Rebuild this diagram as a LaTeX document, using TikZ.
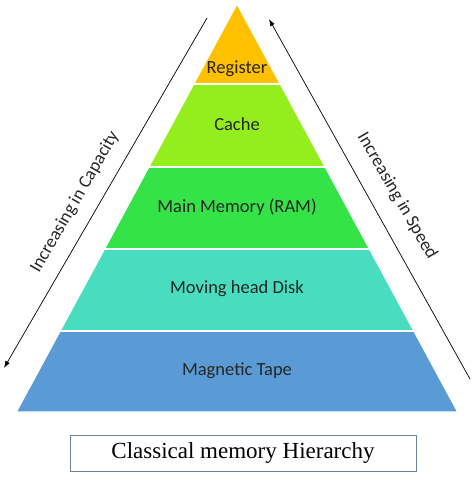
\documentclass[tikz,border=0pt]{standalone}
\usepackage{fontspec}
\setmainfont{Carlito}
\newfontfamily\captionfont{Liberation Serif}
\usetikzlibrary{arrows.meta}
\definecolor{regcol}{HTML}{FFC000}
\definecolor{cachecol}{HTML}{94EE1E}
\definecolor{ramcol}{HTML}{35E247}
\definecolor{diskcol}{HTML}{48DDBE}
\definecolor{tapecol}{HTML}{5B9BD5}
\definecolor{boxcol}{HTML}{6E8399}
\begin{document}
\begin{tikzpicture}[
            x=1pt, y=-1pt,
            >={Latex[length=7pt,width=5pt]},
            band/.style={draw=white, line width=1.2pt},
            level label/.style={font=\fontsize{18.5}{21}\selectfont, text=black!85},
            side label/.style={font=\fontsize{18.2}{21}\selectfont, text=black!85},
            caption box/.style={draw=boxcol, line width=0.8pt, minimum width=346pt, minimum height=36pt, font=\captionfont\fontsize{23}{26}\selectfont},
            every node/.style={align=center}
    ]
        \useasboundingbox (0,0) rectangle (474,477);

        % Pyramid
        \fill[band, fill=regcol] (237,4) -- (280.3,84) -- (193.7,84) -- cycle;
        \fill[band, fill=cachecol] (193.7,84) -- (280.3,84) -- (325.2,167) -- (148.8,167) -- cycle;
        \fill[band, fill=ramcol] (148.8,167) -- (325.2,167) -- (369.5,249) -- (104.5,249) -- cycle;
        \fill[band, fill=diskcol] (104.5,249) -- (369.5,249) -- (413.9,331) -- (60.1,331) -- cycle;
        \fill[band, fill=tapecol] (60.1,331) -- (413.9,331) -- (457.7,412) -- (16.3,412) -- cycle;
        \draw[white, line width=1.2pt] (193.7,84) -- (280.3,84);
        \draw[white, line width=1.2pt] (148.8,167) -- (325.2,167);
        \draw[white, line width=1.2pt] (104.5,249) -- (369.5,249);
        \draw[white, line width=1.2pt] (60.1,331) -- (413.9,331);

        % Levels
        \node[level label] (reg) at (237,69) {Register};
        \node[level label] (cache) at (237,124) {Cache};
        \node[level label] (ram) at (237,207) {Main Memory (RAM)};
        \node[level label] (disk) at (237,289) {Moving head Disk};
        \node[level label] (tape) at (237,371) {Magnetic Tape};

        % Side arrows
        \coordinate (cap_top) at (207,18);
        \coordinate (cap_bot) at (4,368);
        \coordinate (speed_bot) at (470,379);
        \coordinate (speed_top) at (269,19);
        \node[side label, rotate=60] (capacity) at (75,202) {Increasing in Capacity};
        \node[side label, rotate=-60] (speed) at (397,196) {Increasing in Speed};

        % Arrows
        \draw[->, line width=0.7pt] (cap_top) -- (cap_bot);
        \draw[->, line width=0.7pt] (speed_bot) -- (speed_top);

        % Caption
        \node[caption box] (caption) at (243,453) {Classical memory Hierarchy};

    \end{tikzpicture}
\end{document}
